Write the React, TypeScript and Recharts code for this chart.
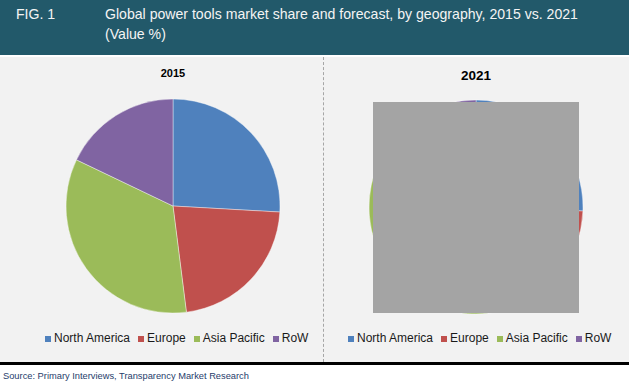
import React from "react";
import { PieChart, Pie, Cell, Legend } from "recharts";

const regions = ["North America", "Europe", "Asia Pacific", "RoW"];
const colors = ["#4f81bd", "#c0504d", "#9bbb59", "#8064a2"];
const share2015 = [25.9, 22.1, 34.1, 17.9];
const share2021 = [25.6, 21.2, 36.0, 17.2];

const data2015 = regions.map((name, i) => ({ name, value: share2015[i] }));
const data2021 = regions.map((name, i) => ({ name, value: share2021[i] }));

const FONT = "'Liberation Sans', Arial, sans-serif";

const legendPayload = regions.map((name, i) => ({
  value: name,
  type: "square" as const,
  id: name,
  color: colors[i],
}));

const fmt = (v: string) => <span style={{ color: "#1a1a1a" }}>{v}</span>;
const sorter = (item: any) => regions.indexOf(item.value);

const css = `
.recharts-legend-item { margin-right: 8px !important; }
.recharts-legend-item svg { margin-right: 3px !important; }
`;

function YearPie({ data, cx, cy, legendLeft }: { data: { name: string; value: number }[]; cx: number; cy: number; legendLeft: number }) {
  return (
    <PieChart width={306} height={305} margin={{ top: 0, right: 0, bottom: 0, left: 0 }} style={{ fontFamily: FONT }}>
      <Pie
        data={data}
        dataKey="value"
        nameKey="name"
        cx={cx}
        cy={cy}
        outerRadius={107}
        startAngle={90}
        endAngle={-270}
        stroke="#ffffff"
        strokeWidth={0.4}
        isAnimationActive={false}
      >
        {data.map((d, i) => (
          <Cell key={d.name} fill={colors[i]} />
        ))}
      </Pie>
      <Legend
        payload={legendPayload}
        itemSorter={sorter}
        iconType="square"
        iconSize={6}
        align="left"
        formatter={fmt}
        wrapperStyle={{ top: 273, left: legendLeft, width: 290, fontSize: 12, lineHeight: "16px" }}
      />
    </PieChart>
  );
}

export default function App() {
  return (
    <div style={{ position: "absolute", left: 0, top: 0, width: 629, height: 386, background: "#ffffff", fontFamily: FONT, overflow: "hidden" }}>
      <style>{css}</style>
      <div style={{ position: "absolute", left: 0, top: 0, width: 629, height: 55, background: "#22596a", color: "#f4f4f4", fontSize: 14.1 }}>
        <div style={{ position: "absolute", left: 16, top: 4, lineHeight: "20px" }}>FIG. 1</div>
        <div style={{ position: "absolute", left: 105, top: 4, lineHeight: "20px", width: 520 }}>
          Global power tools market share and forecast, by geography, 2015 vs. 2021
          <br />
          (Value %)
        </div>
      </div>
      <div style={{ position: "absolute", left: 0, top: 57, width: 629, height: 305, background: "#f2f2f2" }}>
        <div style={{ position: "absolute", left: 0, top: 0 }}>
          <YearPie data={data2015} cx={173} cy={149} legendLeft={45} />
        </div>
        <div style={{ position: "absolute", left: 323, top: 0 }}>
          <YearPie data={data2021} cx={153} cy={150} legendLeft={25} />
        </div>
        <div style={{ position: "absolute", left: 113, top: 10, width: 120, textAlign: "center", fontSize: 11, fontWeight: "bold", color: "#000" }}>2015</div>
        <div style={{ position: "absolute", left: 416, top: 11, width: 120, textAlign: "center", fontSize: 13.5, fontWeight: "bold", color: "#000" }}>2021</div>
        <div style={{ position: "absolute", left: 323, top: 0, width: 0, height: 305, borderLeft: "1px dashed #a6a6a6" }} />
        <div style={{ position: "absolute", left: 373, top: 45, width: 206, height: 211, background: "#a4a4a4" }} />
      </div>
      <div style={{ position: "absolute", left: 0, top: 362, width: 629, height: 3, background: "#000" }} />
      <div style={{ position: "absolute", left: 3, top: 370, fontSize: 9.3, color: "#1f3d6b", lineHeight: "12px" }}>
        Source: Primary Interviews, Transparency Market Research
      </div>
    </div>
  );
}
